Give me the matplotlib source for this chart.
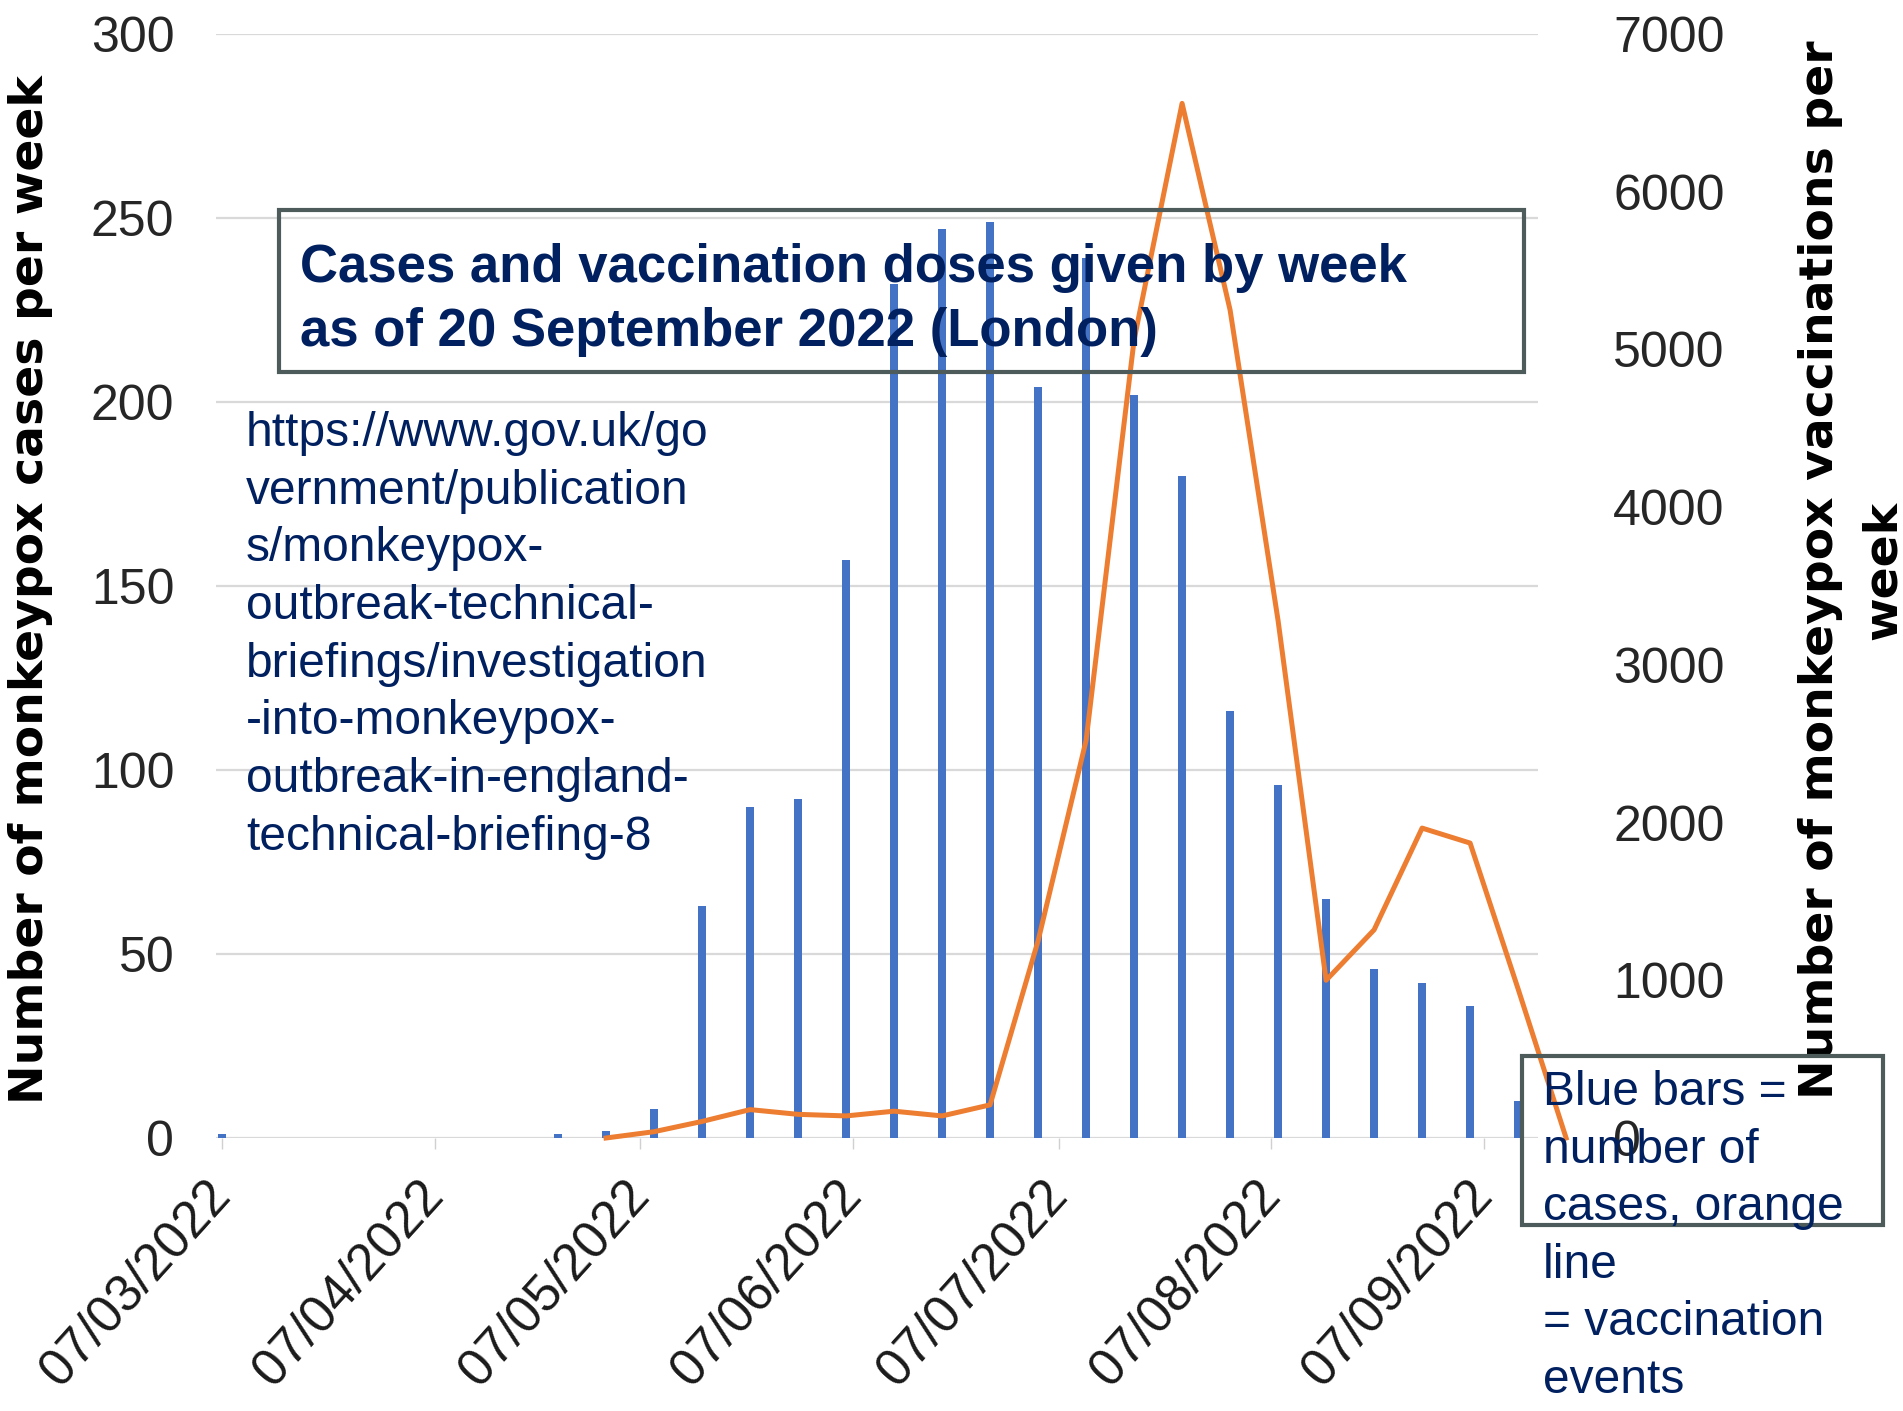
import matplotlib
matplotlib.use("Agg")
import matplotlib.pyplot as plt
import matplotlib.dates as mdates
from matplotlib.patches import Rectangle
from matplotlib.transforms import ScaledTranslation
import datetime as dt

plt.rcParams['font.family'] = ['Liberation Sans', 'DejaVu Sans']

# ---------------- data ----------------
case_weeks = ['2022-03-07', '2022-03-14', '2022-03-21', '2022-03-28', '2022-04-04', '2022-04-11',
              '2022-04-18', '2022-04-25', '2022-05-02', '2022-05-09', '2022-05-16', '2022-05-23',
              '2022-05-30', '2022-06-06', '2022-06-13', '2022-06-20', '2022-06-27', '2022-07-04',
              '2022-07-11', '2022-07-18', '2022-07-25', '2022-08-01', '2022-08-08', '2022-08-15',
              '2022-08-22', '2022-08-29', '2022-09-05', '2022-09-12']
cases = [1, 0, 0, 0, 0, 0, 0, 1, 2, 8, 63, 90, 92, 157, 232, 247, 249, 204, 239, 202, 180,
         116, 96, 65, 46, 42, 36, 10]

vacc_weeks = ['2022-05-02', '2022-05-09', '2022-05-16', '2022-05-23', '2022-05-30', '2022-06-06',
              '2022-06-13', '2022-06-20', '2022-06-27', '2022-07-04', '2022-07-11', '2022-07-18',
              '2022-07-25', '2022-08-01', '2022-08-08', '2022-08-15', '2022-08-22', '2022-08-29',
              '2022-09-05', '2022-09-12', '2022-09-19']
vaccinations = [0, 40, 105, 180, 150, 140, 170, 140, 210, 1250, 2520, 5060, 6560, 5250, 3280,
                1000, 1320, 1965, 1870, 945, 0]

tick_dates = ['2022-03-07', '2022-04-07', '2022-05-07', '2022-06-07', '2022-07-07',
              '2022-08-07', '2022-09-07']
tick_labels = ['07/03/2022', '07/04/2022', '07/05/2022', '07/06/2022', '07/07/2022',
               '07/08/2022', '07/09/2022']

left_ticks = [0, 50, 100, 150, 200, 250, 300]
right_ticks = [0, 1000, 2000, 3000, 4000, 5000, 6000, 7000]

title_lines = ["Cases and vaccination doses given by week",
               "as of 20 September 2022 (London)"]
url_lines = ["https://www.gov.uk/go", "vernment/publication", "s/monkeypox-",
             "outbreak-technical-", "briefings/investigation", "-into-monkeypox-",
             "outbreak-in-england-", "technical-briefing-8"]
note_lines = ["Blue bars =", "number of", "cases, orange", "line", "= vaccination", "events"]

# ---------------- figure ----------------
W, H = 1903, 1411
fig = plt.figure(figsize=(W / 100, H / 100), dpi=100)
fig.patch.set_facecolor('white')


def fx(x):
    return x / W


def fy(y):
    return 1 - y / H


def to_num(s):
    return mdates.date2num(dt.datetime.strptime(s, '%Y-%m-%d'))


ax = fig.add_axes([fx(216), fy(1138), (1538 - 216) / W, (1138 - 34) / H])
ax2 = ax.twinx()

xc = [to_num(d) for d in case_weeks]
xv = [to_num(d) for d in vacc_weeks]
d0 = to_num(case_weeks[0])

ax.bar(xc, cases, width=1.1, color='#4472C4', zorder=2)
ax.set_ylim(0, 300)
ax.set_yticks(left_ticks)
ax.yaxis.grid(True, color='#d9d9d9', lw=1.6, zorder=0)
ax.set_axisbelow(True)
ax.set_xlim(d0 - 0.875, d0 + 191.9)

ax.set_xticks([to_num(d) for d in tick_dates])
ax.set_xticklabels(tick_labels, rotation=48, ha='right', va='top',
                   rotation_mode='anchor', fontsize=37, color='#1a1a1a')
ax.tick_params(axis='x', length=8, width=1, color='#d0d0d0', pad=16)
for lab in ax.get_xticklabels():
    lab.set_transform(lab.get_transform() + ScaledTranslation(-18 / 100, 0, fig.dpi_scale_trans))

ax.tick_params(axis='y', length=0, pad=30, labelsize=36, labelcolor='#262626')
for sp in ax.spines.values():
    sp.set_visible(False)

ax2.plot(xv, vaccinations, color='#ED7D31', lw=3.6, clip_on=False,
         solid_joinstyle='round', zorder=3)
ax2.set_ylim(0, 7000)
ax2.set_yticks(right_ticks)
ax2.tick_params(axis='y', length=0, pad=54, labelsize=36, labelcolor='#262626')
for sp in ax2.spines.values():
    sp.set_visible(False)

# ---------------- axis titles ----------------
fig.text(fx(43), fy(590), "Number of monkeypox cases per week", rotation=90,
         rotation_mode='anchor', ha='center', va='baseline', fontsize=34,
         fontweight='bold', family='DejaVu Sans', color='black')
fig.text(fx(1833), fy(570), "Number of monkeypox vaccinations per", rotation=90,
         rotation_mode='anchor', ha='center', va='baseline', fontsize=34,
         fontweight='bold', family='DejaVu Sans', color='black')
fig.text(fx(1896), fy(570), "week", rotation=90,
         rotation_mode='anchor', ha='center', va='baseline', fontsize=34,
         fontweight='bold', family='DejaVu Sans', color='black')

# ---------------- title box ----------------
box_col = '#4d5b5a'
navy = '#002060'
fig.add_artist(Rectangle((fx(279), fy(372)), (1524 - 279) / W, (372 - 210) / H,
                         transform=fig.transFigure, fill=False, edgecolor=box_col, lw=3,
                         zorder=5))
for i, line in enumerate(title_lines):
    fig.text(fx(300), fy(282 + 64 * i), line, fontsize=38, fontweight='bold',
             color=navy, va='baseline', ha='left', zorder=6)

# ---------------- URL text ----------------
for i, line in enumerate(url_lines):
    fig.text(fx(246), fy(446 + 57.7 * i), line, fontsize=34.5, color=navy,
             va='baseline', ha='left', zorder=6)

# ---------------- note box ----------------
fig.add_artist(Rectangle((fx(1522), fy(1225)), (1883 - 1522) / W, (1225 - 1056) / H,
                         transform=fig.transFigure, fill=False, edgecolor=box_col, lw=3,
                         zorder=5))
for i, line in enumerate(note_lines):
    fig.text(fx(1543), fy(1105 + 57.6 * i), line, fontsize=34.5, color=navy,
             va='baseline', ha='left', zorder=6)

fig.savefig('out.png', dpi=100)
